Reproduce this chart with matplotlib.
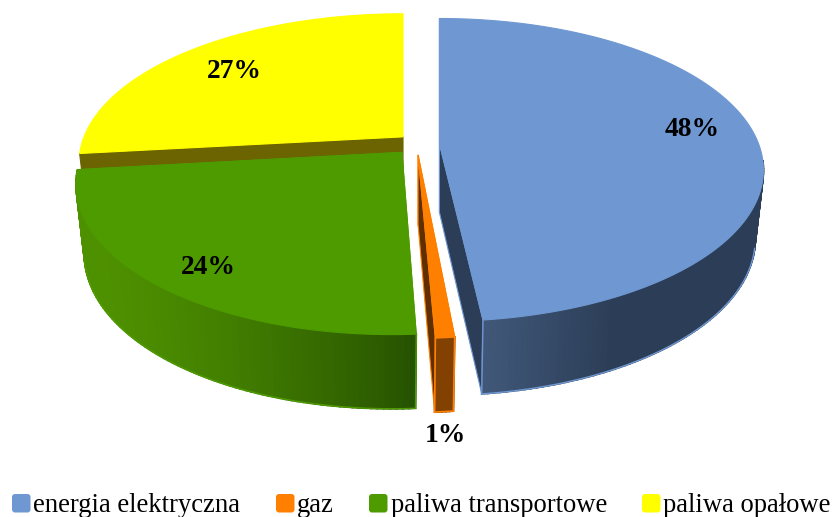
import numpy as np
import matplotlib
matplotlib.use("Agg")
import matplotlib.pyplot as plt
from matplotlib.patches import FancyBboxPatch, Polygon

categories = ["energia elektryczna", "gaz", "paliwa transportowe", "paliwa opałowe"]
shares = [48.2, 0.8, 24.2, 26.8]
colors = ["#6F98D2", "#FF8000", "#4E9B00", "#FFFF00"]
radial_colors = ["#2C3E57", "#5E2F00", "#2A5200", "#6B6400"]
wall_left = ["#41587A", "#824100", "#4E9100", "#6B6400"]
wall_right = ["#2C3E57", "#824100", "#265200", "#6B6400"]

CX, CY, RX, KY, H = 418.0, 144.0, 319.0, 147.0, 72.0
DY, BX, BY = 5.7, 0.145, 0.25
EXPLODE = 0.0735
slice_dx = [-2.0, -2.0, -1.0, 2.5]
slice_skew = [0.0, 7.0, 10.0, 0.0]


def project(lu, lv, z, ox, oy, dx, skew):
    """Local disc point (lu, lv) on the slice displaced by (ox, oy)."""
    sx = DY / (DY + lv - BX * z)
    v = lv + oy
    sy = DY / (DY + v - BY * z)
    x = CX + RX * ox + dx + RX * lu * sx + skew * lv
    y = CY - (KY * v + H * z) * sy
    return x, y


def hex_rgb(c):
    return np.array(matplotlib.colors.to_rgb(c))


fig = plt.figure(figsize=(8.34, 5.17), dpi=100)
ax = fig.add_axes([0, 0, 1, 1])
ax.set_xlim(0, 834)
ax.set_ylim(517, 0)
ax.axis("off")

edges = np.concatenate([[0], np.cumsum(shares)]) / np.sum(shares) * 2 * np.pi
order = [3, 2, 0, 1]

for i in order:
    a0, a1 = edges[i], edges[i + 1]
    mid = (a0 + a1) / 2
    ox, oy = EXPLODE * np.sin(mid), EXPLODE * np.cos(mid)
    th = np.linspace(a0, a1, max(6, int((a1 - a0) * 60)))
    pr = lambda lu, lv, z: project(lu, lv, z, ox, oy, slice_dx[i], slice_skew[i])

    apex0, apex1 = pr(0, 0, 0), pr(0, 0, -1)
    # radial walls (the yellow slice only shows the one towards the green slice)
    for t in ((a0,) if i == 3 else (a0, a1)):
        lu, lv = np.sin(t), np.cos(t)
        ax.add_patch(Polygon([apex0, pr(lu, lv, 0), pr(lu, lv, -1), apex1],
                             fc=radial_colors[i], ec=colors[i] if i < 3 else radial_colors[i],
                             lw=0.8, zorder=1))
    top = [pr(np.sin(t), np.cos(t), 0) for t in th]
    bot = [pr(np.sin(t), np.cos(t), -1) for t in th]
    xs = np.array([p[0] for p in top])
    lo, hi = hex_rgb(wall_left[i]), hex_rgb(wall_right[i])
    # curved wall, shaded along the arc
    if i != 3:
        for k in range(len(th) - 1):
            if np.cos(th[k]) > -0.1 and i == 0:
                continue
            xm = (xs[k] + xs[k + 1]) / 2
            if i == 0:
                f = np.clip((xm - 483) / 130, 0, 1)
                c = lo + (hi - lo) * f
            elif i == 2:
                f = np.clip((xm - 85) / 330, 0, 1) ** 1.4
                c = lo + (hi - lo) * f
            else:
                c = lo
            ax.add_patch(Polygon([top[k], top[k + 1], bot[k + 1], bot[k]], fc=c, ec=c, lw=1.3, zorder=1))
    # outline of the visible wall
    if i in (0, 2):
        mask = np.cos(th) < -0.22
        ax.plot([p[0] for p, m in zip(bot, mask) if m], [p[1] for p, m in zip(bot, mask) if m],
                color=colors[i], lw=1.0, zorder=1)
        ax.plot([top[0 if i == 2 else -1][0], bot[0 if i == 2 else -1][0]],
                [top[0 if i == 2 else -1][1], bot[0 if i == 2 else -1][1]],
                color=colors[i], lw=1.0, zorder=1)
    # top face
    ax.add_patch(Polygon([apex0] + top, fc=colors[i], ec=colors[i], lw=0.8, zorder=1))
    if i == 1:
        ax.add_patch(Polygon([top[0], top[-1], bot[-1], bot[0]], fc=wall_left[1], ec=colors[1], lw=1.2, zorder=1))

labels = [f"{v:.0f}%" for v in shares]
label_xy = [(692, 129), (445, 436), (208, 267), (234, 71)]
for t, (x, y) in zip(labels, label_xy):
    ax.text(x, y, t, ha="center", va="center", fontsize=19.8, fontweight="bold",
            family="Liberation Serif", color="black", zorder=3)

swatch_x = [12, 276, 369, 642]
text_x = [33, 297, 391, 663]
for name, c, sx, tx in zip(categories, colors, swatch_x, text_x):
    ax.add_patch(FancyBboxPatch((sx + 1.5, 495.5), 15.5, 15.5, boxstyle="round,pad=1.5,rounding_size=3",
                                fc=c, ec="none", zorder=3))
    ax.text(tx, 512, name, ha="left", va="baseline", fontsize=19.2, family="Liberation Serif",
            color="black", zorder=3)

fig.savefig("out.png", dpi=100)
